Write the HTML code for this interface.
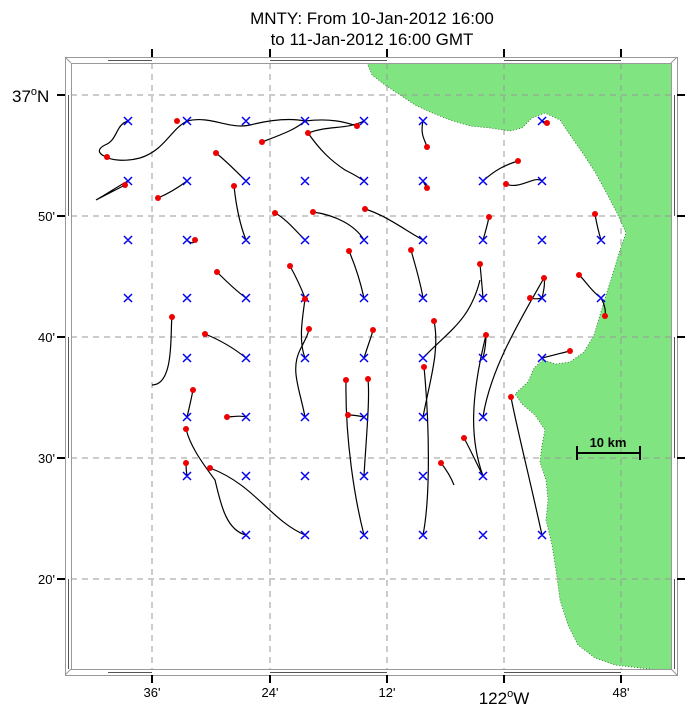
<!DOCTYPE html>
<html><head><meta charset="utf-8"><style>
body{margin:0;background:#fff}
svg{display:block;font-family:"Liberation Sans",sans-serif}
</style></head><body>
<svg width="691" height="710" viewBox="0 0 691 710" xmlns="http://www.w3.org/2000/svg">
<rect width="691" height="710" fill="#fff"/>
<text x="372" y="24" font-size="17" text-anchor="middle">MNTY: From 10-Jan-2012 16:00</text>
<text x="372" y="45" font-size="17" text-anchor="middle">to 11-Jan-2012 16:00 GMT</text>
<!-- land -->
<path d="M367,63 L372,75 L385,85 L400,95 L415,105 L430,112 L450,120 L470,126 L490,128 L510,131 L522,128 L532,118 L545,113 L560,120 L570,135 L582,152 L595,172 L606,192 L617,213 L626,233 L620,250 L614,270 L607,292 L600,315 L594,335 L584,352 L570,362 L556,364 L543,360 L534,368 L528,382 L515,394 L522,404 L535,415 L545,430 L542,445 L540,462 L546,480 L548,500 L546,520 L552,545 L556,570 L560,600 L568,625 L578,645 L595,658 L615,665 L640,668 L652,669 L671,669 L671,63 Z" fill="#80e580"/>
<path d="M367,63 L372,75 L385,85 L400,95 L415,105 L430,112 L450,120 L470,126 L490,128 L510,131 L522,128 L532,118 L545,113 L560,120 L570,135 L582,152 L595,172 L606,192 L617,213 L626,233 L620,250 L614,270 L607,292 L600,315 L594,335 L584,352 L570,362 L556,364 L543,360 L534,368 L528,382 L515,394 L522,404 L535,415 L545,430 L542,445 L540,462 L546,480 L548,500 L546,520 L552,545 L556,570 L560,600 L568,625 L578,645 L595,658 L615,665 L640,668 L652,669" fill="none" stroke="#2a6a2a" stroke-width="0.8" stroke-dasharray="1 2"/>
<!-- grid -->
<g stroke="#999" stroke-width="1" stroke-dasharray="6 5">
<line x1="152" y1="63" x2="152" y2="669"/><line x1="270" y1="63" x2="270" y2="669"/><line x1="387" y1="63" x2="387" y2="669"/><line x1="504" y1="63" x2="504" y2="669"/><line x1="621" y1="63" x2="621" y2="669"/>
<line x1="71" y1="95" x2="671" y2="95"/><line x1="71" y1="216" x2="671" y2="216"/><line x1="71" y1="337" x2="671" y2="337"/><line x1="71" y1="458" x2="671" y2="458"/><line x1="71" y1="579" x2="671" y2="579"/>
</g>
<!-- frame -->
<g fill="none" stroke="#999" stroke-width="1">
<rect x="65.5" y="57.5" width="612" height="618"/>
<rect x="71.5" y="63.5" width="600" height="606"/>
<line x1="65" y1="57" x2="71" y2="63"/><line x1="677" y1="57" x2="671" y2="63"/><line x1="65" y1="675" x2="71" y2="669"/><line x1="677" y1="675" x2="671" y2="669"/>
</g>
<g stroke="#555" stroke-width="1">
<line x1="108" y1="60.5" x2="152" y2="60.5"/><line x1="270" y1="60.5" x2="387" y2="60.5"/><line x1="504" y1="60.5" x2="621" y2="60.5"/>
<line x1="108" y1="672.5" x2="152" y2="672.5"/><line x1="270" y1="672.5" x2="387" y2="672.5"/><line x1="504" y1="672.5" x2="621" y2="672.5"/>
<line x1="68.5" y1="95" x2="68.5" y2="216"/><line x1="68.5" y1="337" x2="68.5" y2="458"/><line x1="68.5" y1="579" x2="68.5" y2="669"/>
<line x1="674.5" y1="95" x2="674.5" y2="216"/><line x1="674.5" y1="337" x2="674.5" y2="458"/><line x1="674.5" y1="579" x2="674.5" y2="669"/>
</g>
<g stroke="#000" stroke-width="2">
<line x1="152" y1="49" x2="152" y2="57"/><line x1="270" y1="49" x2="270" y2="57"/><line x1="387" y1="49" x2="387" y2="57"/><line x1="504" y1="49" x2="504" y2="57"/><line x1="621" y1="49" x2="621" y2="57"/>
<line x1="152" y1="675" x2="152" y2="683"/><line x1="270" y1="675" x2="270" y2="683"/><line x1="387" y1="675" x2="387" y2="683"/><line x1="504" y1="675" x2="504" y2="683"/><line x1="621" y1="675" x2="621" y2="683"/>
<line x1="57" y1="95" x2="65" y2="95"/><line x1="57" y1="216" x2="65" y2="216"/><line x1="57" y1="337" x2="65" y2="337"/><line x1="57" y1="458" x2="65" y2="458"/><line x1="57" y1="579" x2="65" y2="579"/>
<line x1="677" y1="95" x2="685" y2="95"/><line x1="677" y1="216" x2="685" y2="216"/><line x1="677" y1="337" x2="685" y2="337"/><line x1="677" y1="458" x2="685" y2="458"/><line x1="677" y1="579" x2="685" y2="579"/>
</g>
<g font-size="13" text-anchor="middle">
<text x="152" y="697">36'</text><text x="270" y="697">24'</text><text x="387" y="697">12'</text><text x="621" y="697">48'</text>
</g>
<text x="504" y="704" font-size="17" text-anchor="middle">122<tspan font-size="11" dy="-7">o</tspan><tspan dy="7">W</tspan></text>
<text x="12" y="102" font-size="17">37<tspan font-size="11" dy="-7">o</tspan><tspan dy="7">N</tspan></text>
<g font-size="13" text-anchor="end">
<text x="55" y="221">50'</text><text x="55" y="342">40'</text><text x="55" y="463">30'</text><text x="55" y="584">20'</text>
</g>
<!-- scale bar -->
<g stroke="#000" stroke-width="2"><line x1="577" y1="453" x2="640" y2="453"/><line x1="577" y1="446" x2="577" y2="460"/><line x1="640" y1="446" x2="640" y2="460"/></g>
<text x="608" y="447" font-size="13" font-weight="bold" text-anchor="middle">10 km</text>
<!-- tracks -->
<g fill="none" stroke="#000" stroke-width="1.2">
<path d="M128,121 C115,125 118,140 105,145 C95,150 100,155 107,157"/>
<path d="M187,121 C170,130 165,150 140,158 C125,162 110,160 107,157"/>
<path d="M187,121 C210,115 230,130 250,125 C270,120 290,118 305,121 C330,118 345,122 357,126"/>
<path d="M128,181 C120,185 110,192 96,200 L125,185"/>
<path d="M187,181 C175,190 165,195 158,198"/>
<path d="M246,181 C235,170 225,160 216,153"/>
<path d="M246,240 C240,225 236,205 234,186"/>
<path d="M187,240 C192,245 195,242 195,240"/>
<path d="M305,121 C295,130 280,135 262,142"/>
<path d="M364,121 C345,130 330,125 308,133 C320,150 330,160 345,170 C355,175 360,178 364,181"/>
<path d="M423,121 C420,135 425,140 427,147"/>
<path d="M423,181 C425,185 427,188 427,188"/>
<path d="M483,181 C495,170 505,165 518,161"/>
<path d="M542,181 C535,175 520,190 506,184"/>
<path d="M542,121 C545,122 547,123 547,123"/>
<path d="M601,240 C598,230 596,220 595,214"/>
<path d="M483,240 C486,230 488,222 489,217"/>
<path d="M305,240 C295,230 285,218 275,213"/>
<path d="M364,240 C355,225 335,215 313,212"/>
<path d="M423,240 C405,230 385,215 365,209"/>
<path d="M423,298 C420,280 415,265 411,250"/>
<path d="M364,298 C360,280 355,265 349,251"/>
<path d="M305,298 C300,285 295,275 290,266"/>
<path d="M246,298 C235,290 225,280 217,272"/>
<path d="M305,358 C298,340 303,315 305,299"/>
<path d="M305,417 C300,390 290,370 300,350 C305,340 308,335 309,329"/>
<path d="M364,358 C368,345 372,335 373,330"/>
<path d="M423,417 C430,380 440,350 434,321"/>
<path d="M483,298 C482,285 481,275 480,264"/>
<path d="M483,358 C485,350 486,340 486,335"/>
<path d="M542,298 C544,290 545,282 544,278"/>
<path d="M601,298 C590,290 585,280 579,275"/>
<path d="M542,298 C535,300 532,298 530,298"/>
<path d="M601,298 C605,305 606,312 605,316"/>
<path d="M152,385 C175,385 170,330 172,317"/>
<path d="M246,358 C230,345 215,338 205,334"/>
<path d="M187,417 C190,405 192,395 193,390"/>
<path d="M246,417 C240,415 232,417 227,417"/>
<path d="M246,535 C225,530 220,500 215,480 C200,460 190,445 186,429"/>
<path d="M187,476 C186,470 186,466 186,463"/>
<path d="M305,535 C270,520 255,485 210,468"/>
<path d="M364,535 C355,500 345,440 346,380"/>
<path d="M364,476 C366,440 370,400 368,379"/>
<path d="M364,417 C355,415 350,415 348,415"/>
<path d="M423,535 C430,500 430,430 424,367"/>
<path d="M483,476 C470,440 470,400 486,335"/>
<path d="M542,535 C530,480 515,420 511,397"/>
<path d="M483,476 C475,460 468,445 464,438"/>
<path d="M454,485 C450,475 445,468 441,463"/>
<path d="M542,358 C555,355 565,352 570,351"/>
<path d="M423,358 C450,330 470,320 480,280"/>
<path d="M483,417 C490,370 520,320 544,278"/>
</g>
<!-- X markers -->
<g stroke="#0000ee" stroke-width="1.5" id="xs">
<path d="
M124,117l8,8m0,-8l-8,8 M183,117l8,8m0,-8l-8,8 M242,117l8,8m0,-8l-8,8 M301,117l8,8m0,-8l-8,8 M360,117l8,8m0,-8l-8,8 M419,117l8,8m0,-8l-8,8 M538,117l8,8m0,-8l-8,8
M124,177l8,8m0,-8l-8,8 M183,177l8,8m0,-8l-8,8 M242,177l8,8m0,-8l-8,8 M301,177l8,8m0,-8l-8,8 M360,177l8,8m0,-8l-8,8 M419,177l8,8m0,-8l-8,8 M479,177l8,8m0,-8l-8,8 M538,177l8,8m0,-8l-8,8
M124,236l8,8m0,-8l-8,8 M183,236l8,8m0,-8l-8,8 M242,236l8,8m0,-8l-8,8 M301,236l8,8m0,-8l-8,8 M360,236l8,8m0,-8l-8,8 M419,236l8,8m0,-8l-8,8 M479,236l8,8m0,-8l-8,8 M538,236l8,8m0,-8l-8,8 M597,236l8,8m0,-8l-8,8
M124,294l8,8m0,-8l-8,8 M183,294l8,8m0,-8l-8,8 M242,294l8,8m0,-8l-8,8 M301,294l8,8m0,-8l-8,8 M360,294l8,8m0,-8l-8,8 M419,294l8,8m0,-8l-8,8 M479,294l8,8m0,-8l-8,8 M538,294l8,8m0,-8l-8,8 M597,294l8,8m0,-8l-8,8
M183,354l8,8m0,-8l-8,8 M242,354l8,8m0,-8l-8,8 M301,354l8,8m0,-8l-8,8 M360,354l8,8m0,-8l-8,8 M419,354l8,8m0,-8l-8,8 M479,354l8,8m0,-8l-8,8 M538,354l8,8m0,-8l-8,8
M183,413l8,8m0,-8l-8,8 M242,413l8,8m0,-8l-8,8 M301,413l8,8m0,-8l-8,8 M360,413l8,8m0,-8l-8,8 M419,413l8,8m0,-8l-8,8 M479,413l8,8m0,-8l-8,8
M183,472l8,8m0,-8l-8,8 M242,472l8,8m0,-8l-8,8 M301,472l8,8m0,-8l-8,8 M360,472l8,8m0,-8l-8,8 M419,472l8,8m0,-8l-8,8 M479,472l8,8m0,-8l-8,8
M242,531l8,8m0,-8l-8,8 M301,531l8,8m0,-8l-8,8 M360,531l8,8m0,-8l-8,8 M419,531l8,8m0,-8l-8,8 M479,531l8,8m0,-8l-8,8 M538,531l8,8m0,-8l-8,8"/>
</g>
<!-- red dots -->
<g fill="#ee0000">
<circle cx="177" cy="121" r="3"/><circle cx="107" cy="157" r="3"/><circle cx="125" cy="185" r="3"/><circle cx="158" cy="198" r="3"/><circle cx="216" cy="153" r="3"/><circle cx="234" cy="186" r="3"/><circle cx="195" cy="240" r="3"/><circle cx="262" cy="142" r="3"/><circle cx="308" cy="133" r="3"/><circle cx="357" cy="126" r="3"/><circle cx="427" cy="147" r="3"/><circle cx="427" cy="188" r="3"/><circle cx="518" cy="161" r="3"/><circle cx="506" cy="184" r="3"/><circle cx="547" cy="123" r="3"/><circle cx="595" cy="214" r="3"/><circle cx="489" cy="217" r="3"/><circle cx="275" cy="213" r="3"/><circle cx="313" cy="212" r="3"/><circle cx="365" cy="209" r="3"/><circle cx="411" cy="250" r="3"/><circle cx="349" cy="251" r="3"/><circle cx="290" cy="266" r="3"/><circle cx="217" cy="272" r="3"/><circle cx="305" cy="299" r="3"/><circle cx="309" cy="329" r="3"/><circle cx="373" cy="330" r="3"/><circle cx="434" cy="321" r="3"/><circle cx="480" cy="264" r="3"/><circle cx="544" cy="278" r="3"/><circle cx="579" cy="275" r="3"/><circle cx="530" cy="298" r="3"/><circle cx="605" cy="316" r="3"/><circle cx="172" cy="317" r="3"/><circle cx="205" cy="334" r="3"/><circle cx="193" cy="390" r="3"/><circle cx="227" cy="417" r="3"/><circle cx="186" cy="429" r="3"/><circle cx="186" cy="463" r="3"/><circle cx="210" cy="468" r="3"/><circle cx="346" cy="380" r="3"/><circle cx="368" cy="379" r="3"/><circle cx="348" cy="415" r="3"/><circle cx="424" cy="367" r="3"/><circle cx="486" cy="335" r="3"/><circle cx="570" cy="351" r="3"/><circle cx="511" cy="397" r="3"/><circle cx="464" cy="438" r="3"/><circle cx="441" cy="463" r="3"/>
</g>
</svg>
</body></html>
